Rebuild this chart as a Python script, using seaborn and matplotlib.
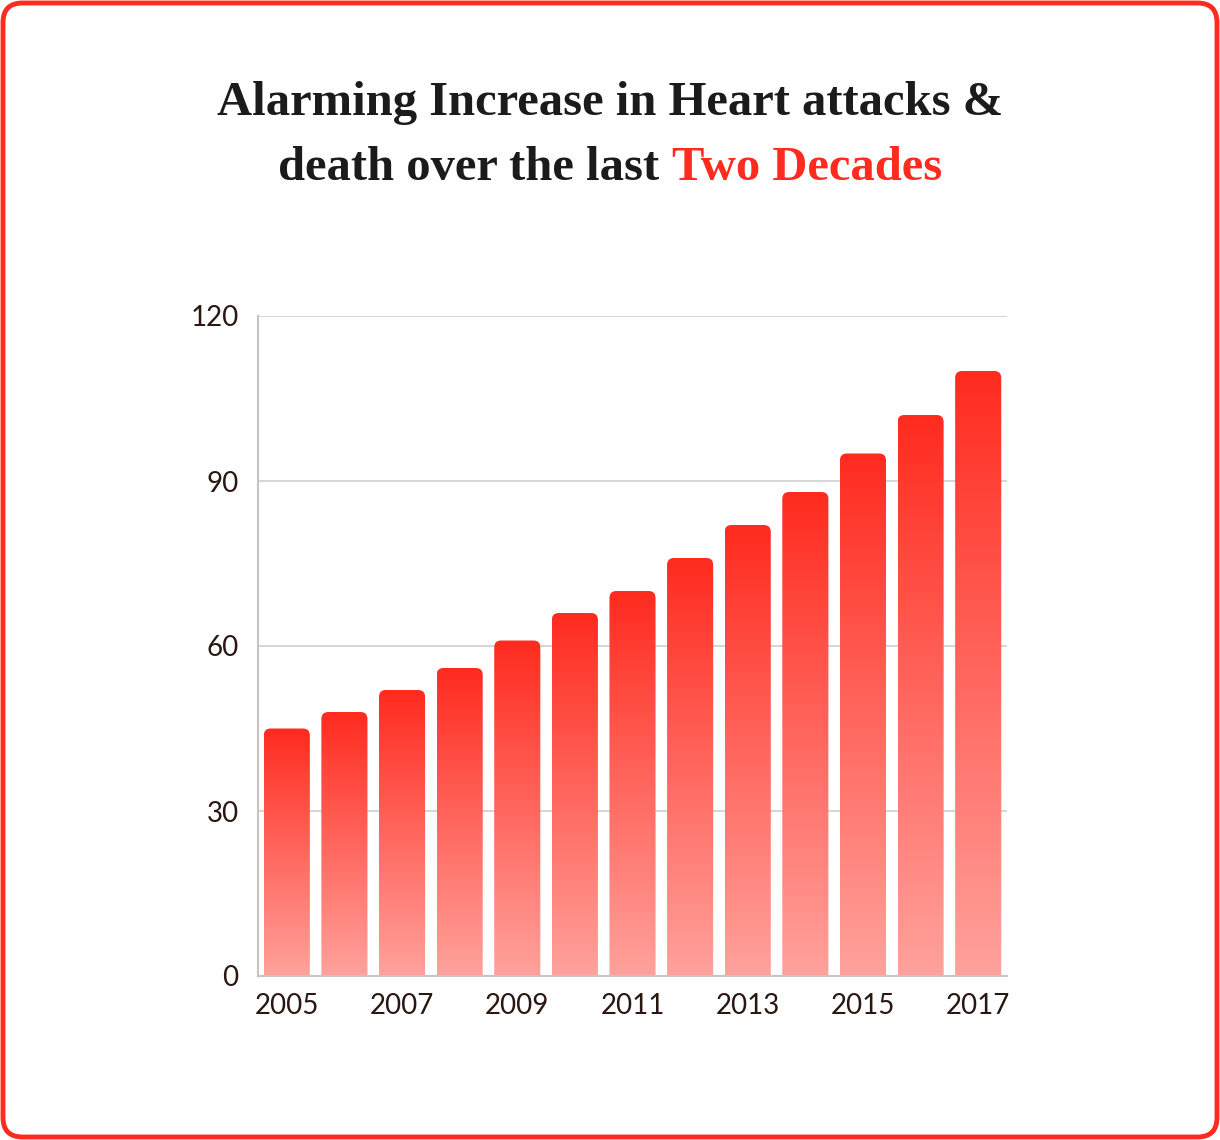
import numpy as np
import pandas as pd
import matplotlib
matplotlib.use("Agg")
import matplotlib.pyplot as plt
import seaborn as sns
from matplotlib.patches import FancyBboxPatch
from matplotlib.colors import LinearSegmentedColormap

years = [2005, 2006, 2007, 2008, 2009, 2010, 2011, 2012, 2013, 2014, 2015, 2016, 2017]
deaths = [45, 48, 52, 56, 61, 66, 70, 76, 82, 88, 95, 102, 110]
y_ticks = [0, 30, 60, 90, 120]
title_line1 = "Alarming Increase in Heart attacks &"
title_line2a = "death over the last "
title_line2b = "Two Decades"

df = pd.DataFrame({"year": [str(y) for y in years], "value": deaths})

sns.set_theme(style="white")
plt.rcParams['font.family'] = ['Lato', 'DejaVu Sans']

RED = "#ff2b1f"
PINK = "#ffa29c"
TICK = "#2b1712"

fig = plt.figure(figsize=(12.2, 11.4), dpi=100)
ax = fig.add_axes([258 / 1220, 1 - 976 / 1140, (1007 - 258) / 1220, 660 / 1140])

sns.barplot(data=df, x="year", y="value", color=RED, width=0.8, ax=ax, zorder=3)

ax.set_ylim(0, 120)
ax.set_xlim(-0.5, len(years) - 0.5)
ax.set_yticks(y_ticks)
ax.yaxis.grid(True, color="#d2d2d2", linewidth=1.3, zorder=0)
ax.set_axisbelow(True)
ax.set_xlabel("")
ax.set_ylabel("")

# gradient fill with rounded tops
cmap = LinearSegmentedColormap.from_list("grad", [PINK, RED])
grad = np.linspace(0, 1, 256).reshape(-1, 1)
for p in list(ax.patches):
    x0, w, h = p.get_x(), p.get_width(), p.get_height()
    p.set_visible(False)
    clip = FancyBboxPatch((x0, -20), w, h + 20,
                          boxstyle="round,pad=0,rounding_size=0.12",
                          mutation_aspect=120 / 660 * 749 / 13,
                          transform=ax.transData, facecolor="none", edgecolor="none")
    ax.add_patch(clip)
    im = ax.imshow(grad, cmap=cmap, extent=(x0, x0 + w, 0, h), origin="lower",
                   aspect="auto", zorder=3)
    im.set_clip_path(clip)
ax.set_xlim(-0.5, len(years) - 0.5)
ax.set_ylim(0, 120)

labels = [str(y) if i % 2 == 0 else "" for i, y in enumerate(years)]
ax.set_xticks(range(len(years)))
ax.set_xticklabels(labels)
ax.tick_params(axis="both", length=0, labelsize=20, colors=TICK, pad=14)
ax.tick_params(axis="x", pad=12)

for s in ["top", "right"]:
    ax.spines[s].set_visible(False)
for s in ["left", "bottom"]:
    ax.spines[s].set_color("#c9c4c2")
    ax.spines[s].set_linewidth(1.5)
    ax.spines[s].set_zorder(4)

# outer red border
border = FancyBboxPatch((3 / 1220, 3 / 1140), 1 - 6 / 1220, 1 - 6 / 1140,
                        boxstyle="round,pad=0,rounding_size=0.016",
                        transform=fig.transFigure, facecolor="none",
                        edgecolor=RED, linewidth=3.5, mutation_aspect=1220 / 1140)
fig.patches.append(border)

# title
tfont = dict(family=["Liberation Serif", "DejaVu Serif"], fontweight="bold", fontsize=35)
fig.text(0.5, 1 - 115 / 1140, title_line1, ha="center", va="baseline", color="#1b1b1b", **tfont)
fig.canvas.draw()
r = fig.canvas.get_renderer()
ta = fig.text(0, 1 - 180 / 1140, title_line2a, ha="left", va="baseline", color="#1b1b1b", **tfont)
tb = fig.text(0, 1 - 180 / 1140, title_line2b, ha="left", va="baseline", color=RED, **tfont)
wa = ta.get_window_extent(r).width
wb = tb.get_window_extent(r).width
start = (1220 - wa - wb) / 2
ta.set_x(start / 1220)
tb.set_x((start + wa) / 1220)

fig.savefig("out.png", dpi=100, facecolor="white")
